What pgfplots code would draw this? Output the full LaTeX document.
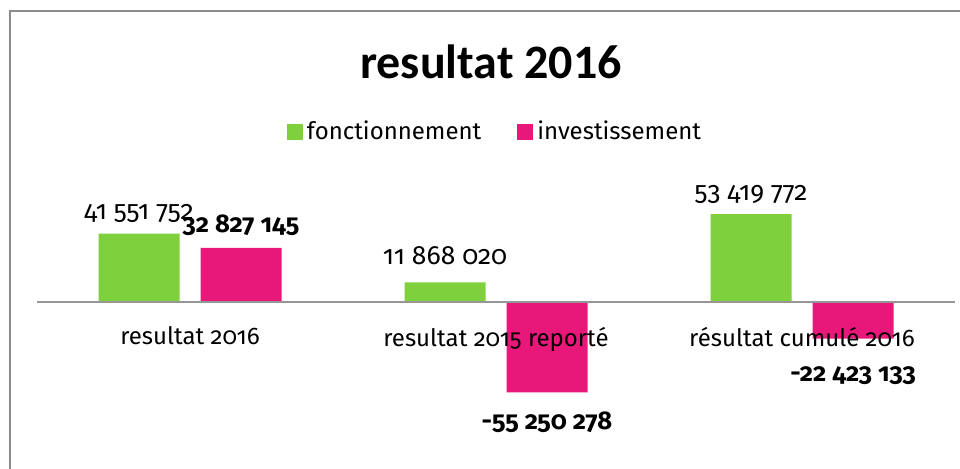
\documentclass[border=0pt]{standalone}
\usepackage{fontspec}
\setmainfont{Fira Sans}[Numbers=OldStyle]
\newfontfamily\titlefont{Carlito}
\usepackage{pgfplots}
\usepackage{pgfplotstable}
\pgfplotsset{compat=1.18}
\definecolor{fonct}{HTML}{7ED03C}
\definecolor{invest}{HTML}{E8187B}
\definecolor{axisgray}{HTML}{969696}
\definecolor{framegray}{HTML}{8C8C8C}

% dy = label baseline offset from bar end (pt)
\pgfplotstableread{
x y label dy
0 41551752 {41 551 752} 7
1 11868020 {11 868 020} 9
2 53419772 {53 419 772} 7
}\fonctionnement
\pgfplotstableread{
x y label dy
0 32827145 {32 827 145} 7.5
1 -55250278 {-55 250 278} -18.5
2 -22423133 {-22 423 133} -21.5
}\investissement

\begin{document}
\begin{tikzpicture}
\path[use as bounding box] (0,0) rectangle (480pt,234pt);
% chart frame (left and top edges only are visible)
\draw[framegray, line width=1.2pt] (4.85pt,-5pt) -- (4.85pt,228.6pt) -- (490pt,228.6pt);
\node[font=\titlefont\bfseries\fontsize{24}{28}\selectfont] at (245.5pt,203pt) {resultat 2016};

\begin{axis}[
  at={(18.5pt,17.5pt)}, anchor=south west,
  scale only axis,
  width=459pt, height=131.2pt,
  ybar=10.5pt, bar width=40.5pt,
  xmin=-0.5, xmax=2.5,
  ymin=-80000000, ymax=80000000,
  clip=false,
  axis x line=middle,
  axis line style={-, axisgray, line width=0.75pt},
  hide y axis,
  xtick={0,1,2},
  xticklabels={resultat 2016, resultat 2015 reporté, résultat cumulé 2016},
  major tick length=0pt,
  xticklabel style={font=\fontsize{12}{14}\selectfont, yshift=-9pt},
  axis on top,
  legend style={
    at={(0.5,1.147)}, anchor=center,
    draw=none, fill=none, inner sep=0pt,
    font=\fontsize{12}{14}\selectfont,
    legend columns=2,
    /tikz/every even column/.append style={column sep=16pt},
    legend cell align=left,
  },
  legend image code/.code={\fill[#1] (0pt,-4pt) rectangle (8pt,4pt);},
  nodes near coords, point meta=explicit symbolic,
  visualization depends on={\thisrow{dy} \as \dy},
  every node near coord/.append style={inner sep=0pt, anchor=base, yshift=\dy pt},
]
\addplot[fill=fonct, draw=none,
  every node near coord/.append style={font=\fontsize{13.2}{15}\selectfont}]
  table[x=x, y=y, meta=label] {\fonctionnement};
\addlegendentry{fonctionnement}
\addplot[fill=invest, draw=none,
  every node near coord/.append style={font=\fontsize{12.8}{15}\selectfont\bfseries}]
  table[x=x, y=y, meta=label] {\investissement};
\addlegendentry{investissement}
\end{axis}
\end{tikzpicture}
\end{document}
